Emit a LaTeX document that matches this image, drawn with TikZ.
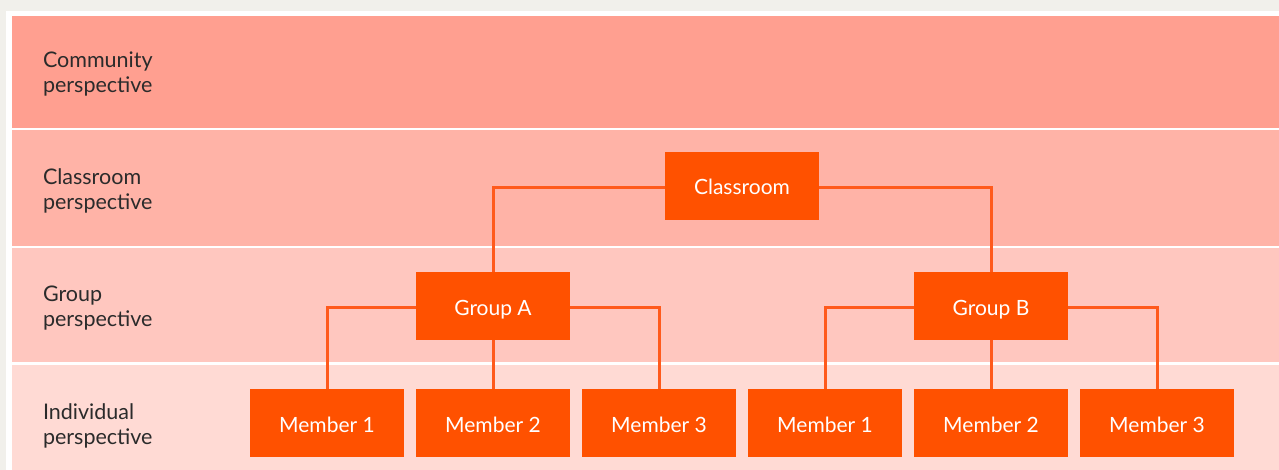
\documentclass[tikz,border=0pt]{standalone}
\usepackage{fontspec}
\setmainfont{Lato}
\usepackage{tikz}
\usetikzlibrary{calc,positioning}
\usepackage{xcolor}

\definecolor{pagegrey}{HTML}{F1F0EB}
\definecolor{bandcommunity}{HTML}{FF9F90}
\definecolor{bandclassroom}{HTML}{FFB3A7}
\definecolor{bandgroup}{HTML}{FFC7BF}
\definecolor{bandindividual}{HTML}{FFDAD4}
\definecolor{unitorange}{HTML}{FF5100}
\definecolor{linkorange}{HTML}{FF5A1C}
\definecolor{labelgrey}{HTML}{2B2B2B}

\begin{document}
\begin{tikzpicture}[x=1pt,y=-1pt,
	  every node/.style={inner sep=0pt,outer sep=0pt},
	  perspective/.style={anchor=west,align=left,text=labelgrey,font=\fontsize{21.5}{24.5}\selectfont},
	  unit/.style={fill=unitorange,text=white,minimum width=154pt,minimum height=68pt,text height=18pt,text depth=0pt,font=\fontsize{21}{24}\selectfont},
	  link/.style={draw=linkorange,line width=3pt},
	  node distance=12pt]

	  % Page and the four bands
	  \fill[pagegrey] (0,0) rectangle (1279,470);
	  \fill[white] (6,11) rectangle (1279,470);
	  \fill[bandcommunity] (12,16) rectangle (1279,128);
	  \fill[bandclassroom] (12,130) rectangle (1279,246);
	  \fill[bandgroup] (12,248) rectangle (1279,362);
	  \fill[bandindividual] (12,365) rectangle (1279,470);
	  \useasboundingbox (0,0) rectangle (1279,470);

	  \node[perspective] (community) at (43,74) {Community\\perspective};
	  \node[perspective] (classroomview) at (43,191) {Classroom\\perspective};
	  \node[perspective] (groupview) at (43,308) {Group\\perspective};
	  \node[perspective] (individualview) at (43,426) {Individual\\perspective};

	  % Position the members in a row, the rest above them
	  \node[unit] (membera1) at (327,423) {Member 1};
	  \node[unit,right=of membera1] (membera2) {Member 2};
	  \node[unit,right=of membera2] (membera3) {Member 3};
	  \node[unit,right=of membera3] (memberb1) {Member 1};
	  \node[unit,right=of memberb1] (memberb2) {Member 2};
	  \node[unit,right=of memberb2] (memberb3) {Member 3};
	  \node[unit,above=49pt of membera2] (groupa) {Group A};
	  \node[unit,above=49pt of memberb2] (groupb) {Group B};
	  \node[unit] (classroom) at ($(groupa)!0.5!(groupb)+(0,-120)$) {Classroom};

	  \draw[link] ([yshift=-2pt]classroom.west) -| (groupa.north);
	  \draw[link] ([yshift=-2pt]classroom.east) -| (groupb.north);
	  \draw[link] ([yshift=-1pt]groupa.west) -| (membera1.north);
	  \draw[link] (groupa.south) -- (membera2.north);
	  \draw[link] ([yshift=-1pt]groupa.east) -| (membera3.north);
	  \draw[link] ([yshift=-1pt]groupb.west) -| (memberb1.north);
	  \draw[link] (groupb.south) -- (memberb2.north);
	  \draw[link] ([yshift=-1pt]groupb.east) -| (memberb3.north);
\end{tikzpicture}
\end{document}
